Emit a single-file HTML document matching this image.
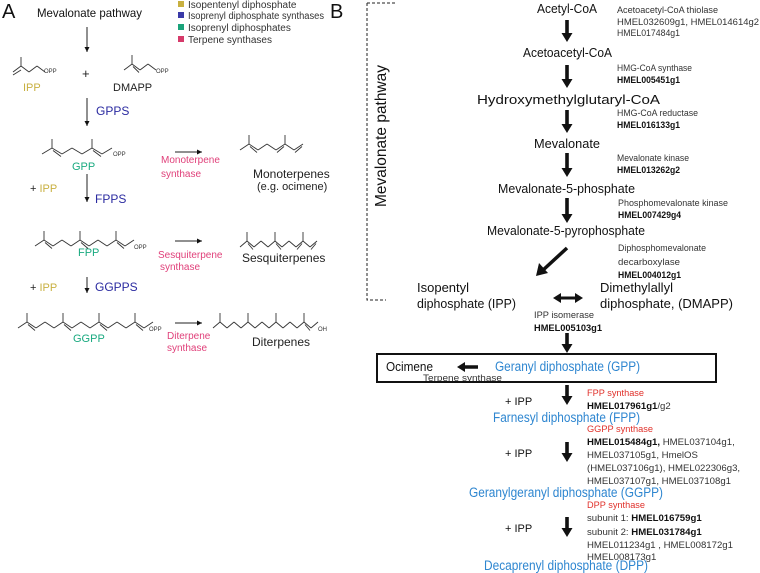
<!DOCTYPE html>
<html><head><meta charset="utf-8"><style>
html,body{margin:0;padding:0;background:#fff;}
svg{display:block;font-family:"Liberation Sans",sans-serif;}
.s{font-size:9px;fill:#333;}
.s2{font-size:9.6px;fill:#333;}
.b{font-weight:bold;fill:#111;}
.m{font-size:13px;fill:#111;}
.bl{font-size:13.5px;fill:#2e86d0;}
.rd{font-size:9.5px;fill:#e0302a;}
.a{font-size:12px;fill:#111;}
</style></head><body>
<svg id="fig" width="760" height="573" viewBox="0 0 760 573">
<defs>
<marker id="ah" markerWidth="6" markerHeight="6" refX="5" refY="3" orient="auto"><path d="M0,0.5 L5,3 L0,5.5z" fill="#111"/></marker>
</defs>
<g>
<text x="2" y="18" font-size="20" fill="#111">A</text>
<text x="37" y="17" class="a" textLength="105" lengthAdjust="spacingAndGlyphs">Mevalonate pathway</text>
<g>
<rect x="178" y="1" width="6" height="6" fill="#c8b040"/>
<text x="188" y="8" font-size="10" fill="#333">Isopentenyl diphosphate</text>
<rect x="178" y="12" width="6" height="6" fill="#3a3aa8"/>
<text x="188" y="19" font-size="10" fill="#333" textLength="136" lengthAdjust="spacingAndGlyphs">Isoprenyl diphosphate synthases</text>
<rect x="178" y="24" width="6" height="6" fill="#1aa37a"/>
<text x="188" y="31" font-size="10" fill="#333">Isoprenyl diphosphates</text>
<rect x="178" y="36" width="6" height="6" fill="#d63a6a"/>
<text x="188" y="43" font-size="10" fill="#333">Terpene synthases</text>
</g>
<g stroke="#222" stroke-width="1" marker-end="url(#ah)">
<line x1="87" y1="27" x2="87" y2="52"/>
<line x1="87" y1="98" x2="87" y2="126"/>
<line x1="87" y1="174" x2="87" y2="202"/>
<line x1="87" y1="277" x2="87" y2="293"/>
<line x1="175" y1="152" x2="202" y2="152"/>
<line x1="175" y1="241" x2="202" y2="241"/>
<line x1="175" y1="323" x2="202" y2="323"/>
</g>
<text x="23" y="91" font-size="11" fill="#c8b040">IPP</text>
<text x="82" y="78" font-size="13" fill="#222">+</text>
<text x="113" y="91" font-size="11" fill="#222">DMAPP</text>
<text x="96" y="115" font-size="12" fill="#2a2aa0">GPPS</text>
<text x="72" y="170" font-size="11" fill="#1aaa80">GPP</text>
<text x="161" y="163" font-size="10" fill="#e0407a">Monoterpene</text>
<text x="161" y="177" font-size="10" fill="#e0407a">synthase</text>
<text x="253" y="178" font-size="12" fill="#222">Monoterpenes</text>
<text x="257" y="190" font-size="11" fill="#222">(e.g. ocimene)</text>
<text x="30" y="192" font-size="11" fill="#222">+ <tspan fill="#c8b040">IPP</tspan></text>
<text x="95" y="203" font-size="12" fill="#2a2aa0">FPPS</text>
<text x="78" y="256" font-size="11" fill="#1aaa80">FPP</text>
<text x="158" y="258" font-size="10" fill="#e0407a">Sesquiterpene</text>
<text x="160" y="270" font-size="10" fill="#e0407a">synthase</text>
<text x="242" y="262" font-size="12" fill="#222">Sesquiterpenes</text>
<text x="30" y="291" font-size="11" fill="#222">+ <tspan fill="#c8b040">IPP</tspan></text>
<text x="95" y="291" font-size="12" fill="#2a2aa0">GGPPS</text>
<text x="73" y="342" font-size="11" fill="#1aaa80">GGPP</text>
<text x="167" y="339" font-size="10" fill="#e0407a">Diterpene</text>
<text x="167" y="351" font-size="10" fill="#e0407a">synthase</text>
<text x="252" y="346" font-size="12" fill="#222">Diterpenes</text>
<g id="mols" stroke="#333" stroke-width="0.9" fill="none"></g>
<g font-size="6" fill="#333">
<text x="44" y="73">OPP</text><text x="156" y="73">OPP</text><text x="113" y="156">OPP</text>
<text x="134" y="249">OPP</text><text x="149" y="331">OPP</text><text x="318" y="331">OH</text>
</g>
</g>
<g>
<text x="330" y="18" font-size="20" fill="#111">B</text>
<path d="M367,3 H397 M367,3 V300 H386" stroke="#222" stroke-width="1" stroke-dasharray="3,2" fill="none"/>
<text transform="translate(386,136) rotate(-90)" text-anchor="middle" font-size="15.5" fill="#111" textLength="142" lengthAdjust="spacingAndGlyphs">Mevalonate pathway</text>
<g id="barrows" fill="#111">
<line x1="567" y1="248" x2="542" y2="271" stroke="#111" stroke-width="3.5"/>
<path d="M536,276 L539,263 L548,273z"/>
<line x1="560" y1="298" x2="576" y2="298" stroke="#111" stroke-width="3"/>
<path d="M553,298 L561,293 L561,303z M583,298 L575,293 L575,303z"/>
<line x1="478" y1="367" x2="464" y2="367" stroke="#111" stroke-width="3.5"/>
<path d="M457,367 L465,362 L465,372z"/>
</g>
<g class="m">
<text x="537" y="13" textLength="60" lengthAdjust="spacingAndGlyphs">Acetyl-CoA</text>
<text x="523" y="57" textLength="89" lengthAdjust="spacingAndGlyphs">Acetoacetyl-CoA</text>
<text x="477" y="104" textLength="183" lengthAdjust="spacingAndGlyphs">Hydroxymethylglutaryl-CoA</text>
<text x="534" y="148" textLength="66" lengthAdjust="spacingAndGlyphs">Mevalonate</text>
<text x="498" y="193" textLength="137" lengthAdjust="spacingAndGlyphs">Mevalonate-5-phosphate</text>
<text x="487" y="235" textLength="158" lengthAdjust="spacingAndGlyphs">Mevalonate-5-pyrophosphate</text>
<text x="417" y="292">Isopentyl</text>
<text x="417" y="308" textLength="99" lengthAdjust="spacingAndGlyphs">diphosphate  (IPP)</text>
<text x="600" y="292">Dimethylallyl</text>
<text x="600" y="308">diphosphate, (DMAPP)</text>
<text x="386" y="371" textLength="47" lengthAdjust="spacingAndGlyphs">Ocimene</text>
</g>
<g class="s">
<text x="617" y="13" textLength="101" lengthAdjust="spacingAndGlyphs">Acetoacetyl-CoA thiolase</text>
<text x="617" y="25" textLength="142" lengthAdjust="spacingAndGlyphs">HMEL032609g1, HMEL014614g2</text>
<text x="617" y="36" textLength="63" lengthAdjust="spacingAndGlyphs">HMEL017484g1</text>
<text x="617" y="71" textLength="75" lengthAdjust="spacingAndGlyphs">HMG-CoA synthase</text>
<text x="617" y="83" class="s b" textLength="63" lengthAdjust="spacingAndGlyphs">HMEL005451g1</text>
<text x="617" y="116" textLength="81" lengthAdjust="spacingAndGlyphs">HMG-CoA reductase</text>
<text x="617" y="128" class="s b" textLength="63" lengthAdjust="spacingAndGlyphs">HMEL016133g1</text>
<text x="617" y="161" textLength="72" lengthAdjust="spacingAndGlyphs">Mevalonate kinase</text>
<text x="617" y="173" class="s b" textLength="63" lengthAdjust="spacingAndGlyphs">HMEL013262g2</text>
<text x="618" y="206" textLength="110" lengthAdjust="spacingAndGlyphs">Phosphomevalonate kinase</text>
<text x="618" y="218" class="s b" textLength="63" lengthAdjust="spacingAndGlyphs">HMEL007429g4</text>
<text x="618" y="251" textLength="88" lengthAdjust="spacingAndGlyphs">Diphosphomevalonate</text>
<text x="618" y="265" textLength="62" lengthAdjust="spacingAndGlyphs">decarboxylase</text>
<text x="618" y="278" class="s b" textLength="63" lengthAdjust="spacingAndGlyphs">HMEL004012g1</text>
<text x="534" y="318" textLength="60" lengthAdjust="spacingAndGlyphs">IPP isomerase</text>
<text x="534" y="331" class="s b" textLength="68" lengthAdjust="spacingAndGlyphs">HMEL005103g1</text>
<text x="423" y="381" textLength="79" lengthAdjust="spacingAndGlyphs">Terpene synthase</text>
</g>
<rect x="377" y="354" width="339" height="28" fill="none" stroke="#111" stroke-width="2"/>
<text x="495" y="371" class="bl" textLength="145" lengthAdjust="spacingAndGlyphs">Geranyl diphosphate (GPP)</text>
<text x="493" y="422" class="bl" textLength="147" lengthAdjust="spacingAndGlyphs">Farnesyl diphosphate (FPP)</text>
<text x="469" y="497" class="bl" textLength="194" lengthAdjust="spacingAndGlyphs">Geranylgeranyl diphosphate (GGPP)</text>
<text x="484" y="570" class="bl" textLength="164" lengthAdjust="spacingAndGlyphs">Decaprenyl diphosphate (DPP)</text>
<text x="505" y="405" font-size="11" fill="#111">+ IPP</text>
<text x="505" y="457" font-size="11" fill="#111">+ IPP</text>
<text x="505" y="532" font-size="11" fill="#111">+ IPP</text>
<g class="s2">
<text x="587" y="396" class="rd" textLength="57" lengthAdjust="spacingAndGlyphs">FPP synthase</text>
<text x="587" y="409"><tspan class="b">HMEL017961g1</tspan>/g2</text>
<text x="587" y="432" class="rd" textLength="66" lengthAdjust="spacingAndGlyphs">GGPP synthase</text>
<text x="587" y="445"><tspan class="b">HMEL015484g1,</tspan> HMEL037104g1,</text>
<text x="587" y="458">HMEL037105g1, HmelOS</text>
<text x="587" y="471">(HMEL037106g1), HMEL022306g3,</text>
<text x="587" y="484">HMEL037107g1, HMEL037108g1</text>
<text x="587" y="508" class="rd" textLength="58" lengthAdjust="spacingAndGlyphs">DPP synthase</text>
<text x="587" y="521">subunit 1:  <tspan class="b">HMEL016759g1</tspan></text>
<text x="587" y="535">subunit 2:  <tspan class="b">HMEL031784g1</tspan></text>
<text x="587" y="548">HMEL011234g1 , HMEL008172g1</text>
<text x="587" y="560">HMEL008173g1</text>
</g>
</g>
</svg>
<script>
var NS='http://www.w3.org/2000/svg';
var mols=document.getElementById('mols');
function ln(g,x1,y1,x2,y2){var l=document.createElementNS(NS,'line');l.setAttribute('x1',x1);l.setAttribute('y1',y1);l.setAttribute('x2',x2);l.setAttribute('y2',y2);g.appendChild(l);}
function chain(name,x0,yLo,n,step,methyls,doubles){
  var g=document.createElementNS(NS,'g');
  
  
  var pts=[];
  for(var i=0;i<=n;i++){pts.push([x0+i*step,(i%2==1)?yLo-6:yLo]);}
  for(var i=0;i<n;i++){ln(g,pts[i][0],pts[i][1],pts[i+1][0],pts[i+1][1]);}
  methyls.forEach(function(i){ln(g,pts[i][0],pts[i][1],pts[i][0],pts[i][1]-9);});
  doubles.forEach(function(i){var a=pts[i],b=pts[i+1];ln(g,a[0]+1,a[1]+2.5,b[0]-1,b[1]+2.5);});
  mols.appendChild(g);
}
chain('ipp-structure',13,72,4,8,[1],[]);
ln(mols,13,75,21,70);
chain('dmapp-structure',124,70,4,8,[1],[1]);
chain('gpp-structure',42,154,7,10,[1,5],[1,5]);
chain('ocimene-structure',240,150,7,9,[1,5],[1,4,6]);
chain('fpp-structure',35,246,11,9,[1,5,9],[1,5,9]);
chain('sesquiterpene-structure',240,247,11,7,[1,5,9],[1,5,8,10]);
chain('ggpp-structure',18,328,15,9,[1,5,9,13],[1,5,9,13]);
chain('diterpene-structure',213,328,15,7,[1,5,9,13],[13]);
var ba=document.getElementById('barrows');
function darrow(name,x,y1,y2){var p=document.createElementNS(NS,'path');
  p.setAttribute('d','M'+(x-1.8)+','+y1+' H'+(x+1.8)+' V'+(y2-9)+' H'+(x+5.5)+' L'+x+','+y2+' L'+(x-5.5)+','+(y2-9)+' H'+(x-1.8)+'z');
  
  
  ba.appendChild(p);}
darrow('arrow-thiolase',567,20,42);
darrow('arrow-hmg-synthase',567,65,88);
darrow('arrow-hmg-reductase',567,110,133);
darrow('arrow-mevalonate-kinase',567,153,177);
darrow('arrow-phosphomevalonate-kinase',567,198,223);
darrow('arrow-to-gpp',567,333,353);
darrow('arrow-fpp-synthase',567,385,405);
darrow('arrow-ggpp-synthase',567,442,462);
darrow('arrow-dpp-synthase',567,517,537);
</script>
</body></html>
